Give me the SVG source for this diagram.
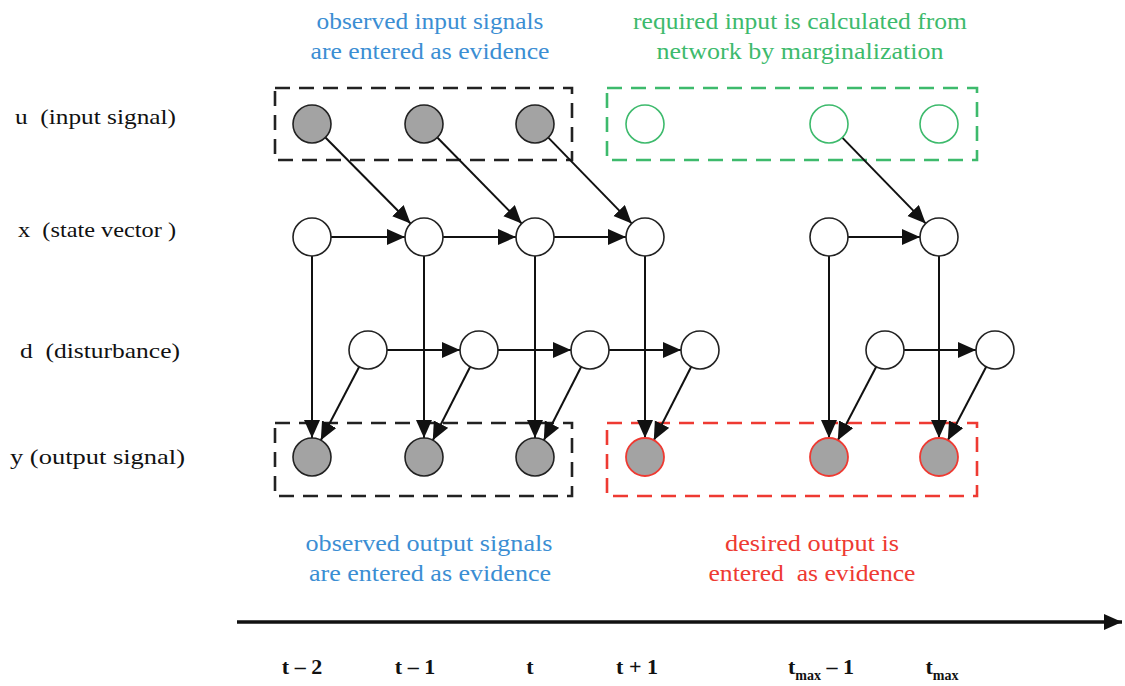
<svg xmlns="http://www.w3.org/2000/svg" width="1125" height="686" viewBox="0 0 1125 686">
  <style>
    text { font-family: "Liberation Serif", "Times New Roman", serif; }
    .row { font-size: 22px; fill: #111; }
    .blue { font-size: 23px; fill: #3b8ed3; text-anchor: middle; }
    .green { font-size: 23px; fill: #3dba6c; text-anchor: middle; }
    .red { font-size: 23px; fill: #ee3a32; text-anchor: middle; }
    .tick { font-size: 22px; font-weight: bold; fill: #111; text-anchor: middle; }
    .obs { fill: #a3a3a3; stroke: #222; stroke-width: 1.6; }
    .hid { fill: #fff; stroke: #222; stroke-width: 1.6; }
    .req { fill: #fff; stroke: #3dba6c; stroke-width: 1.6; }
    .des { fill: #a3a3a3; stroke: #ee3a32; stroke-width: 1.8; }
    .box { fill: none; stroke-width: 2.6; stroke-dasharray: 15 9; }
    .edge { stroke: #111; stroke-width: 2; fill: none; marker-end: url(#head); }
  </style>
  <defs>
    <marker id="head" markerUnits="userSpaceOnUse" markerWidth="19" markerHeight="17" refX="18" refY="8" orient="auto">
      <path d="M0,0 L18,8 L0,16 z" fill="#111"/>
    </marker>
    <marker id="axisHead" markerUnits="userSpaceOnUse" markerWidth="20" markerHeight="18" refX="18" refY="8" orient="auto">
      <path d="M0,0 L18,8 L0,16 z" fill="#111"/>
    </marker>
  </defs>

  <rect width="1125" height="686" fill="#fff"/>

  <!-- row labels -->
  <g id="row-labels">
    <text class="row" x="15" y="124" textLength="161" lengthAdjust="spacingAndGlyphs" xml:space="preserve">u  (input signal)</text>
    <text class="row" x="18" y="237" textLength="158" lengthAdjust="spacingAndGlyphs" xml:space="preserve">x  (state vector )</text>
    <text class="row" x="20" y="358" textLength="160" lengthAdjust="spacingAndGlyphs" xml:space="preserve">d  (disturbance)</text>
    <text class="row" x="10" y="464" textLength="175" lengthAdjust="spacingAndGlyphs">y (output signal)</text>
  </g>

  <!-- annotations -->
  <g id="note-input">
    <text class="blue" x="430" y="29" textLength="227" lengthAdjust="spacingAndGlyphs">observed input signals</text>
    <text class="blue" x="430" y="59" textLength="239" lengthAdjust="spacingAndGlyphs">are entered as evidence</text>
  </g>
  <g id="note-required">
    <text class="green" x="800" y="29" textLength="334" lengthAdjust="spacingAndGlyphs">required input is calculated from</text>
    <text class="green" x="800" y="59" textLength="287" lengthAdjust="spacingAndGlyphs">network by marginalization</text>
  </g>
  <g id="note-output">
    <text class="blue" x="429" y="551" textLength="247" lengthAdjust="spacingAndGlyphs">observed output signals</text>
    <text class="blue" x="430" y="581" textLength="242" lengthAdjust="spacingAndGlyphs">are entered as evidence</text>
  </g>
  <g id="note-desired">
    <text class="red" x="812" y="551" textLength="174" lengthAdjust="spacingAndGlyphs">desired output is</text>
    <text class="red" x="812" y="581" textLength="207" lengthAdjust="spacingAndGlyphs" xml:space="preserve">entered  as evidence</text>
  </g>

  <!-- evidence boxes -->
  <g id="boxes">
    <rect class="box" x="275" y="88" width="297" height="72" stroke="#222"/>
    <rect class="box" x="607" y="88" width="370" height="72" stroke="#3dba6c"/>
    <rect class="box" x="275" y="423" width="297" height="73" stroke="#222"/>
    <rect class="box" x="607" y="423" width="370" height="73" stroke="#ee3a32"/>
  </g>

  <!-- connectors -->
  <g id="connectors">
    <!-- input to next state -->
    <line class="edge" x1="325.4" y1="137.5" x2="410.6" y2="223.5"/>
    <line class="edge" x1="437.3" y1="137.5" x2="521.7" y2="223.5"/>
    <line class="edge" x1="548.3" y1="137.6" x2="631.7" y2="223.4"/>
    <line class="edge" x1="842.3" y1="137.6" x2="925.7" y2="223.4"/>
    <!-- state transitions -->
    <line class="edge" x1="331" y1="237" x2="405" y2="237"/>
    <line class="edge" x1="443" y1="237" x2="516" y2="237"/>
    <line class="edge" x1="554" y1="237" x2="626" y2="237"/>
    <line class="edge" x1="848" y1="237" x2="920" y2="237"/>
    <!-- state to output -->
    <line class="edge" x1="312" y1="256" x2="312" y2="438"/>
    <line class="edge" x1="424" y1="256" x2="424" y2="438"/>
    <line class="edge" x1="535" y1="256" x2="535" y2="438"/>
    <line class="edge" x1="645" y1="256" x2="645" y2="438"/>
    <line class="edge" x1="829" y1="256" x2="829" y2="438"/>
    <line class="edge" x1="939" y1="256" x2="939" y2="438"/>
    <!-- disturbance transitions -->
    <line class="edge" x1="387" y1="350" x2="460" y2="350"/>
    <line class="edge" x1="498" y1="350" x2="571" y2="350"/>
    <line class="edge" x1="609" y1="350" x2="681" y2="350"/>
    <line class="edge" x1="904" y1="350" x2="976" y2="350"/>
    <!-- disturbance to output -->
    <line class="edge" x1="359.2" y1="366.8" x2="320.8" y2="440.2"/>
    <line class="edge" x1="470.2" y1="366.8" x2="432.8" y2="440.2"/>
    <line class="edge" x1="581.2" y1="366.8" x2="543.8" y2="440.2"/>
    <line class="edge" x1="691.2" y1="366.8" x2="653.8" y2="440.2"/>
    <line class="edge" x1="876.2" y1="366.8" x2="837.8" y2="440.2"/>
    <line class="edge" x1="986.2" y1="366.8" x2="947.8" y2="440.2"/>
  </g>

  <!-- input nodes -->
  <g id="u-1"><circle class="obs" cx="312" cy="124" r="19"/></g>
  <g id="u-2"><circle class="obs" cx="424" cy="124" r="19"/></g>
  <g id="u-3"><circle class="obs" cx="535" cy="124" r="19"/></g>
  <g id="u-4"><circle class="req" cx="645" cy="124" r="19"/></g>
  <g id="u-5"><circle class="req" cx="829" cy="124" r="19"/></g>
  <g id="u-6"><circle class="req" cx="939" cy="124" r="19"/></g>

  <!-- state nodes -->
  <g id="x-1"><circle class="hid" cx="312" cy="237" r="19"/></g>
  <g id="x-2"><circle class="hid" cx="424" cy="237" r="19"/></g>
  <g id="x-3"><circle class="hid" cx="535" cy="237" r="19"/></g>
  <g id="x-4"><circle class="hid" cx="645" cy="237" r="19"/></g>
  <g id="x-5"><circle class="hid" cx="829" cy="237" r="19"/></g>
  <g id="x-6"><circle class="hid" cx="939" cy="237" r="19"/></g>

  <!-- disturbance nodes -->
  <g id="d-1"><circle class="hid" cx="368" cy="350" r="19"/></g>
  <g id="d-2"><circle class="hid" cx="479" cy="350" r="19"/></g>
  <g id="d-3"><circle class="hid" cx="590" cy="350" r="19"/></g>
  <g id="d-4"><circle class="hid" cx="700" cy="350" r="19"/></g>
  <g id="d-5"><circle class="hid" cx="885" cy="350" r="19"/></g>
  <g id="d-6"><circle class="hid" cx="995" cy="350" r="19"/></g>

  <!-- output nodes -->
  <g id="y-1"><circle class="obs" cx="312" cy="457" r="19"/></g>
  <g id="y-2"><circle class="obs" cx="424" cy="457" r="19"/></g>
  <g id="y-3"><circle class="obs" cx="535" cy="457" r="19"/></g>
  <g id="y-4"><circle class="des" cx="645" cy="457" r="19"/></g>
  <g id="y-5"><circle class="des" cx="829" cy="457" r="19"/></g>
  <g id="y-6"><circle class="des" cx="939" cy="457" r="19"/></g>

  <!-- time axis -->
  <g id="time-axis">
    <line x1="237" y1="622" x2="1122" y2="622" stroke="#111" stroke-width="3.5" marker-end="url(#axisHead)"/>
    <text class="tick" x="302" y="674">t – 2</text>
    <text class="tick" x="415" y="674">t – 1</text>
    <text class="tick" x="530" y="674">t</text>
    <text class="tick" x="637" y="674">t + 1</text>
    <text class="tick" x="821" y="674">t<tspan font-size="14" dy="6">max</tspan><tspan dy="-6"> – 1</tspan></text>
    <text class="tick" x="942" y="674">t<tspan font-size="14" dy="6">max</tspan></text>
  </g>
</svg>
